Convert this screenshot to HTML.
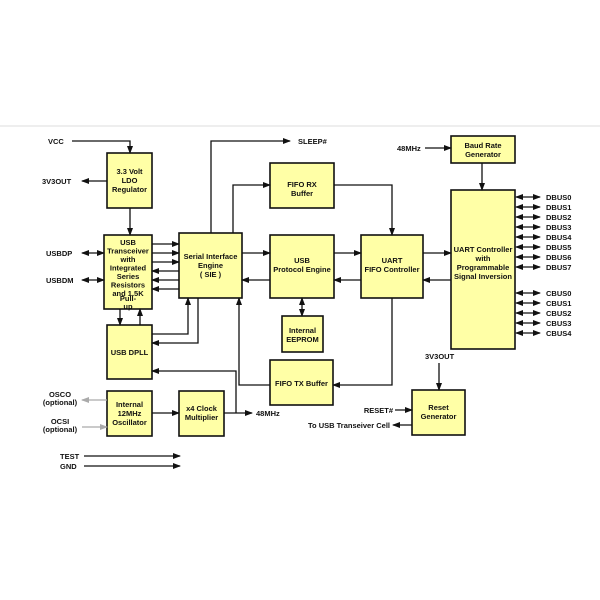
<!DOCTYPE html>
<html><head><meta charset="utf-8"><style>
html,body{margin:0;padding:0;background:#fff;}
svg{display:block;}
text{font-family:"Liberation Sans",Arial,sans-serif;font-weight:bold;font-size:7.5px;fill:#111;}
.b{fill:#ffffa6;stroke:#111;stroke-width:1.6;}
.l{stroke:#111;stroke-width:1.3;fill:none;}
.g{stroke:#aaa;stroke-width:1.3;fill:none;}
</style></head><body>
<svg width="600" height="600" viewBox="0 0 600 600" xmlns="http://www.w3.org/2000/svg">
<defs>
<marker id="a" markerWidth="8" markerHeight="6" refX="7" refY="3" orient="auto" markerUnits="userSpaceOnUse"><path d="M0,0 L8,3 L0,6 z" fill="#111"/></marker>
<marker id="s" markerWidth="8" markerHeight="6" refX="1" refY="3" orient="auto" markerUnits="userSpaceOnUse"><path d="M8,0 L0,3 L8,6 z" fill="#111"/></marker>
<marker id="ga" markerWidth="8" markerHeight="6" refX="7" refY="3" orient="auto" markerUnits="userSpaceOnUse"><path d="M0,0 L8,3 L0,6 z" fill="#aaa"/></marker>
</defs>
<line x1="0" y1="126" x2="600" y2="126" stroke="#ddd" stroke-width="1"/>

<!-- boxes -->
<rect class="b" x="107" y="153" width="45" height="55"/>
<rect class="b" x="104" y="235" width="48" height="74"/>
<rect class="b" x="107" y="325" width="45" height="54"/>
<rect class="b" x="107" y="391" width="45" height="45"/>
<rect class="b" x="179" y="391" width="45" height="45"/>
<rect class="b" x="179" y="233" width="63" height="65"/>
<rect class="b" x="270" y="163" width="64" height="45"/>
<rect class="b" x="270" y="235" width="64" height="63"/>
<rect class="b" x="282" y="316" width="41" height="36"/>
<rect class="b" x="270" y="360" width="63" height="45"/>
<rect class="b" x="361" y="235" width="62" height="63"/>
<rect class="b" x="451" y="136" width="64" height="27"/>
<rect class="b" x="451" y="190" width="64" height="159"/>
<rect class="b" x="412" y="390" width="53" height="45"/>

<!-- box texts -->
<g text-anchor="middle">
<text x="129.5" y="174">3.3 Volt</text><text x="129.5" y="183">LDO</text><text x="129.5" y="192">Regulator</text>
<text x="128" y="245">USB</text><text x="128" y="253.5">Transceiver</text><text x="128" y="262">with</text><text x="128" y="270.5">Integrated</text><text x="128" y="279">Series</text><text x="128" y="287.5">Resistors</text><text x="128" y="296">and 1.5K</text><text x="128" y="301">Pull-</text><text x="128" y="309">up</text>
<text x="129.5" y="355">USB DPLL</text>
<text x="129.5" y="407">Internal</text><text x="129.5" y="416">12MHz</text><text x="129.5" y="425">Oscillator</text>
<text x="201.5" y="411">x4 Clock</text><text x="201.5" y="420">Multiplier</text>
<text x="210.5" y="259">Serial Interface</text><text x="210.5" y="268">Engine</text><text x="210.5" y="277">( SIE )</text>
<text x="302" y="187">FIFO RX</text><text x="302" y="196">Buffer</text>
<text x="302" y="263">USB</text><text x="302" y="272">Protocol Engine</text>
<text x="302.5" y="333">Internal</text><text x="302.5" y="342">EEPROM</text>
<text x="301.5" y="386">FIFO TX Buffer</text>
<text x="392" y="263">UART</text><text x="392" y="272">FIFO Controller</text>
<text x="483" y="148">Baud Rate</text><text x="483" y="157">Generator</text>
<text x="483" y="252">UART Controller</text><text x="483" y="261">with</text><text x="483" y="270">Programmable</text><text x="483" y="279">Signal Inversion</text>
<text x="438.5" y="410">Reset</text><text x="438.5" y="419">Generator</text>
</g>

<!-- left labels -->
<text x="48" y="144">VCC</text>
<text x="42" y="184">3V3OUT</text>
<text x="46" y="256">USBDP</text>
<text x="46" y="283">USBDM</text>
<text x="60" y="397" text-anchor="middle">OSCO</text><text x="60" y="405" text-anchor="middle">(optional)</text>
<text x="60" y="424" text-anchor="middle">OCSI</text><text x="60" y="432" text-anchor="middle">(optional)</text>
<text x="60" y="459">TEST</text><text x="60" y="469">GND</text>
<text x="298" y="144">SLEEP#</text>
<text x="397" y="151">48MHz</text>
<text x="256" y="416">48MHz</text>
<text x="425" y="359">3V3OUT</text>
<text x="393" y="413" text-anchor="end">RESET#</text>
<text x="390" y="428" text-anchor="end">To USB Transeiver Cell</text>

<g>
<text x="546" y="200">DBUS0</text><text x="546" y="210">DBUS1</text><text x="546" y="220">DBUS2</text><text x="546" y="230">DBUS3</text>
<text x="546" y="240">DBUS4</text><text x="546" y="250">DBUS5</text><text x="546" y="260">DBUS6</text><text x="546" y="270">DBUS7</text>
<text x="546" y="296">CBUS0</text><text x="546" y="306">CBUS1</text><text x="546" y="316">CBUS2</text><text x="546" y="326">CBUS3</text><text x="546" y="336">CBUS4</text>
</g>

<!-- connectors -->
<path class="l" d="M72,141 H130 V153" marker-end="url(#a)"/>
<path class="l" d="M107,181 H82" marker-end="url(#a)"/>
<path class="l" d="M130,208 V235" marker-end="url(#a)"/>
<path class="l" d="M82,253 H104" marker-start="url(#s)" marker-end="url(#a)"/>
<path class="l" d="M82,280 H104" marker-start="url(#s)" marker-end="url(#a)"/>
<path class="l" d="M152,244 H179" marker-end="url(#a)"/>
<path class="l" d="M152,253 H179" marker-end="url(#a)"/>
<path class="l" d="M152,262 H179" marker-end="url(#a)"/>
<path class="l" d="M179,271 H152" marker-end="url(#a)"/>
<path class="l" d="M179,280 H152" marker-end="url(#a)"/>
<path class="l" d="M179,289 H152" marker-end="url(#a)"/>
<path class="l" d="M120,309 V325" marker-end="url(#a)"/>
<path class="l" d="M140,325 V309" marker-end="url(#a)"/>
<path class="l" d="M152,334 H188 V298" marker-end="url(#a)"/>
<path class="l" d="M198,298 V343 H152" marker-end="url(#a)"/>
<path class="l" d="M211,233 V141 H290" marker-end="url(#a)"/>
<path class="l" d="M233,233 V185 H270" marker-end="url(#a)"/>
<path class="l" d="M242,253 H270" marker-end="url(#a)"/>
<path class="l" d="M270,280 H242" marker-end="url(#a)"/>
<path class="l" d="M302,298 V316" marker-start="url(#s)" marker-end="url(#a)"/>
<path class="l" d="M334,185 H392 V235" marker-end="url(#a)"/>
<path class="l" d="M334,253 H361" marker-end="url(#a)"/>
<path class="l" d="M361,280 H334" marker-end="url(#a)"/>
<path class="l" d="M423,253 H451" marker-end="url(#a)"/>
<path class="l" d="M451,280 H423" marker-end="url(#a)"/>
<path class="l" d="M392,298 V385 H333" marker-end="url(#a)"/>
<path class="l" d="M270,385 H239 V298" marker-end="url(#a)"/>
<path class="l" d="M236,413 V371 H152" marker-end="url(#a)"/>
<path class="l" d="M152,413 H179" marker-end="url(#a)"/>
<path class="l" d="M224,413 H252" marker-end="url(#a)"/>
<path class="g" d="M107,400 H82" marker-end="url(#ga)"/>
<path class="g" d="M82,427 H107" marker-end="url(#ga)"/>
<path class="l" d="M84,456 H180" marker-end="url(#a)"/>
<path class="l" d="M84,466 H180" marker-end="url(#a)"/>
<path class="l" d="M425,148 H451" marker-end="url(#a)"/>
<path class="l" d="M482,163 V190" marker-end="url(#a)"/>
<path class="l" d="M439,363 V390" marker-end="url(#a)"/>
<path class="l" d="M395,410 H412" marker-end="url(#a)"/>
<path class="l" d="M412,425 H393" marker-end="url(#a)"/>
<g class="l">
<path d="M516,197 H540" marker-start="url(#s)" marker-end="url(#a)"/>
<path d="M516,207 H540" marker-start="url(#s)" marker-end="url(#a)"/>
<path d="M516,217 H540" marker-start="url(#s)" marker-end="url(#a)"/>
<path d="M516,227 H540" marker-start="url(#s)" marker-end="url(#a)"/>
<path d="M516,237 H540" marker-start="url(#s)" marker-end="url(#a)"/>
<path d="M516,247 H540" marker-start="url(#s)" marker-end="url(#a)"/>
<path d="M516,257 H540" marker-start="url(#s)" marker-end="url(#a)"/>
<path d="M516,267 H540" marker-start="url(#s)" marker-end="url(#a)"/>
<path d="M516,293 H540" marker-start="url(#s)" marker-end="url(#a)"/>
<path d="M516,303 H540" marker-start="url(#s)" marker-end="url(#a)"/>
<path d="M516,313 H540" marker-start="url(#s)" marker-end="url(#a)"/>
<path d="M516,323 H540" marker-start="url(#s)" marker-end="url(#a)"/>
<path d="M516,333 H540" marker-start="url(#s)" marker-end="url(#a)"/>
</g>
</svg>
</body></html>
